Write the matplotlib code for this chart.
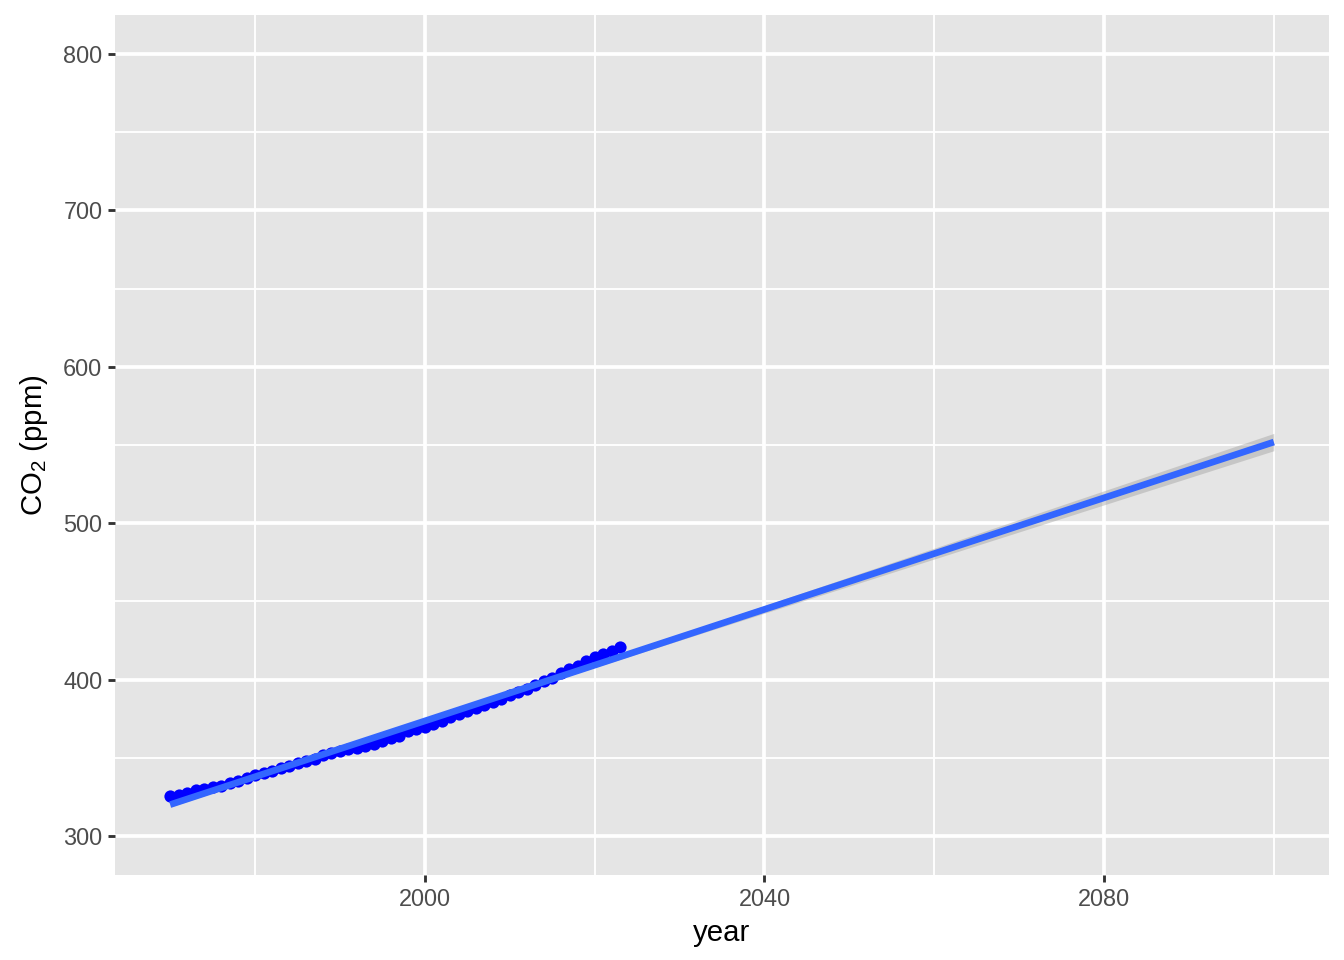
import numpy as np
import matplotlib
matplotlib.use("Agg")
import matplotlib.pyplot as plt
from matplotlib.ticker import MultipleLocator

plt.rcParams['font.family'] = ['Liberation Sans', 'DejaVu Sans']
plt.rcParams['mathtext.default'] = 'regular'

# Mauna Loa annual mean CO2 (ppm)
years = np.arange(1970, 2024)
co2 = np.array([
    325.68, 326.32, 327.46, 329.68, 330.19, 331.13, 332.03, 333.84, 335.41, 336.84,
    338.76, 340.12, 341.48, 343.15, 344.87, 346.35, 347.61, 349.31, 351.69, 353.20,
    354.45, 355.70, 356.54, 357.21, 358.96, 360.97, 362.74, 363.88, 366.84, 368.54,
    369.71, 371.32, 373.45, 375.98, 377.70, 379.98, 382.09, 384.02, 385.83, 387.64,
    390.10, 391.85, 394.06, 396.74, 398.81, 401.01, 404.41, 406.76, 408.72, 411.65,
    414.21, 416.41, 418.53, 421.08,
])
fit_end = 2100
y_limits = [300, 800]

# linear fit + 95% confidence band (like geom_smooth(method = "lm", fullrange = TRUE))
n = len(years)
slope, intercept = np.polyfit(years, co2, 1)
resid = co2 - (slope * years + intercept)
s = np.sqrt(np.sum(resid ** 2) / (n - 2))
sxx = np.sum((years - years.mean()) ** 2)
xf = np.linspace(years.min(), fit_end, 200)
yf = slope * xf + intercept
se = s * np.sqrt(1 / n + (xf - years.mean()) ** 2 / sxx)
t_crit = 2.0066  # t(0.975, df=52)

fig = plt.figure(figsize=(7, 5), dpi=192)
ax = fig.add_axes([115 / 1344, 1 - 875 / 960, (1329 - 115) / 1344, (875 - 15) / 960])
ax.set_facecolor('#E5E5E5')
for sp in ax.spines.values():
    sp.set_visible(False)

ax.fill_between(xf, yf - t_crit * se, yf + t_crit * se, color='#999999', alpha=0.4, lw=0, zorder=2)
ax.scatter(years, co2, s=21, color='#0000FF', lw=0, zorder=3)
ax.plot(xf, yf, color='#3366FF', lw=2.5, zorder=4, solid_capstyle='butt')

xr = fit_end - years.min()
ax.set_xlim(years.min() - 0.05 * xr, fit_end + 0.05 * xr)
yr = y_limits[1] - y_limits[0]
ax.set_ylim(y_limits[0] - 0.05 * yr, y_limits[1] + 0.05 * yr)

ax.xaxis.set_major_locator(MultipleLocator(40))
ax.xaxis.set_minor_locator(MultipleLocator(20))
ax.yaxis.set_major_locator(MultipleLocator(100))
ax.yaxis.set_minor_locator(MultipleLocator(50))
ax.grid(which='major', color='white', lw=1.4, zorder=1)
ax.grid(which='minor', color='white', lw=0.7, zorder=1)
ax.set_axisbelow(True)

ax.tick_params(which='major', length=2.75, width=1.07, color='#333333',
               labelsize=8.8, labelcolor='#4D4D4D', pad=2)
ax.tick_params(which='minor', length=0)

ax.set_xlabel('year', fontsize=11, color='black', labelpad=3)
ax.set_ylabel('CO$_2$ (ppm)', fontsize=11, color='black', labelpad=5)

fig.savefig('out.png', dpi=192)
